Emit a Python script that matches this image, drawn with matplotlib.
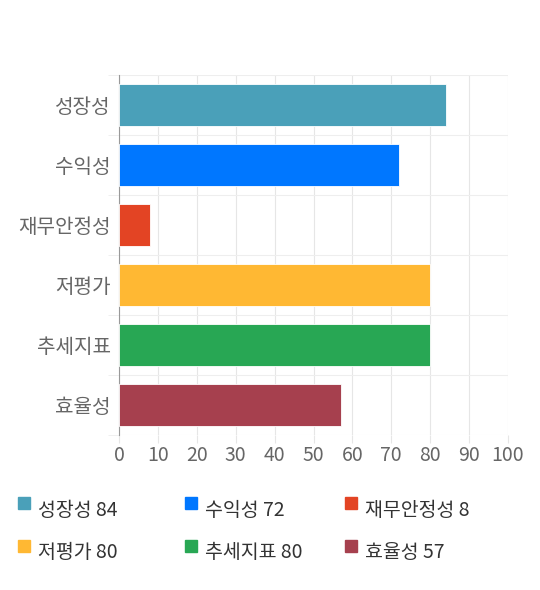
import matplotlib.pyplot as plt
from matplotlib.patches import Rectangle

plt.rcParams['font.family'] = ['Noto Sans CJK KR', 'DejaVu Sans']

# 데이터
categories = ['성장성', '수익성', '재무안정성', '저평가', '추세지표', '효율성']
values = [84, 72, 8, 80, 80, 57]
colors = ['#4aa0b9', '#0077ff', '#e34424', '#ffb833', '#28a754', '#a6404e']
xticks = list(range(0, 101, 10))

fig = plt.figure(figsize=(5.4, 5.9), dpi=100)
ax = fig.add_axes([119 / 540, 1 - 435 / 590, 389 / 540, 360 / 590])

y = list(range(len(categories)))
ax.barh(y, values, height=0.7, color=colors, edgecolor='white', linewidth=0.6, zorder=3)

ax.set_xlim(0, 100)
ax.set_ylim(len(categories) - 0.5, -0.5)
ax.set_xticks(xticks)
ax.set_yticks(y)
ax.set_yticklabels(categories)

# 격자
ax.set_yticks([i - 0.5 for i in range(len(categories) + 1)], minor=True)
ax.grid(True, axis='x', color='#e6e6e6', linewidth=0.8, zorder=0)
ax.grid(True, axis='y', which='minor', color='#eeeeee', linewidth=0.8, zorder=0)
ax.tick_params(axis='y', which='major', length=0, pad=6, labelsize=14.5, labelcolor='#666666')
ax.tick_params(axis='y', which='minor', length=8, color='#eeeeee')
ax.tick_params(axis='x', length=6, color='#e6e6e6', labelsize=14, labelcolor='#666666', pad=1)

for s in ['top', 'right', 'bottom']:
    ax.spines[s].set_visible(False)
ax.spines['left'].set_color('#999999')
ax.spines['left'].set_linewidth(0.8)

# 범례
col_x = [18, 185, 345]
row_y = [510, 553]
for i, (c, v, col) in enumerate(zip(categories, values, colors)):
    px = col_x[i % 3]
    py = row_y[i // 3]
    fig.add_artist(Rectangle((px / 540, 1 - (py - 1) / 590), 12 / 540, 12 / 590,
                             transform=fig.transFigure, color=col))
    fig.text((px + 20) / 540, 1 - py / 590, f'{c} {v}', fontsize=14,
             color='#333333', va='center', ha='left')

fig.savefig('out.png', dpi=100)
